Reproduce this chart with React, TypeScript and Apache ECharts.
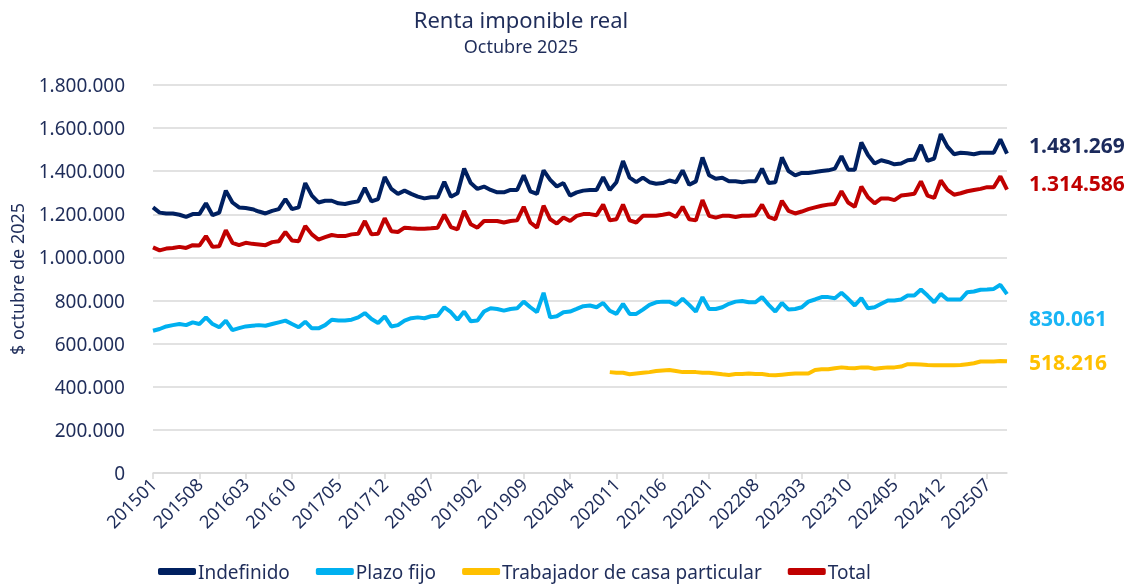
import React, { useEffect, useRef } from "react";
import * as echarts from "echarts";

// Monthly categories 201501 .. 202510
const START_YEAR = 2015;
const N_MONTHS = 130;
const months: string[] = [];
for (let k = 0; k < N_MONTHS; k++) {
  const y = START_YEAR + Math.floor(k / 12);
  const m = (k % 12) + 1;
  months.push(`${y}${m < 10 ? "0" + m : m}`);
}

// Values in thousands of $ (octubre 2025)
const indefinido = [
  1232, 1208, 1204, 1204, 1198, 1188, 1201, 1201, 1251, 1196, 1208, 1310,
  1255, 1232, 1229, 1224, 1213, 1204, 1216, 1224, 1271, 1224, 1232, 1345,
  1287, 1255, 1263, 1263, 1251, 1248, 1255, 1260, 1323, 1260, 1271, 1373,
  1318, 1295, 1310, 1295, 1282, 1274, 1279, 1279, 1351, 1282, 1298, 1412,
  1345, 1318, 1329, 1313, 1302, 1302, 1313, 1313, 1381, 1307, 1295, 1404,
  1360, 1329, 1345, 1287, 1302, 1310, 1313, 1313, 1373, 1313, 1349, 1447,
  1370, 1349, 1370, 1349, 1342, 1345, 1357, 1349, 1404, 1337, 1353, 1464,
  1381, 1365, 1370, 1353, 1353, 1349, 1353, 1353, 1412, 1345, 1349, 1464,
  1401, 1381, 1392, 1392, 1396, 1401, 1404, 1412, 1470, 1407, 1407, 1533,
  1475, 1436, 1451, 1443, 1432, 1436, 1451, 1454, 1522, 1448, 1459, 1572,
  1514, 1479, 1486, 1483, 1479, 1486, 1486, 1486, 1548, 1481.269,
];

const plazoFijo = [
  660, 668, 680, 686, 691, 686, 699, 691, 722, 691, 676, 707,
  663, 672, 680, 683, 686, 683, 691, 699, 707, 691, 676, 702,
  671, 671, 686, 711, 707, 707, 711, 722, 742, 714, 696, 727,
  680, 686, 707, 718, 722, 718, 727, 730, 769, 746, 711, 749,
  704, 707, 749, 764, 761, 753, 761, 764, 795, 769, 746, 836,
  722, 727, 746, 749, 761, 774, 777, 769, 789, 753, 738, 785,
  738, 738, 758, 780, 792, 795, 795, 780, 808, 780, 749, 816,
  761, 761, 769, 785, 795, 798, 792, 792, 816, 780, 749, 789,
  758, 761, 769, 795, 805, 816, 816, 811, 836, 808, 777, 811,
  764, 769, 785, 800, 800, 805, 823, 823, 851, 823, 792, 831,
  805, 805, 805, 839, 842, 850, 851, 854, 873, 830.061,
];

// Trabajador de casa particular: series starts 202010
const casaParticularStart = "202010";
const casaParticular = [
  468, 465, 465, 458, 462, 465, 468, 473, 476, 478, 473, 468,
  468, 468, 465, 465, 462, 458, 455, 459, 459, 462, 459, 459,
  455, 453, 456, 459, 462, 462, 462, 478, 481, 481, 486, 490,
  487, 486, 490, 490, 484, 487, 490, 490, 494, 505, 505, 503,
  501, 500, 500, 500, 500, 501, 505, 509, 517, 517, 517, 520, 518.216,
];

const total = [
  1047, 1033, 1041, 1044, 1049, 1044, 1057, 1055, 1099, 1049, 1052, 1126,
  1068, 1057, 1068, 1063, 1060, 1057, 1071, 1075, 1118, 1079, 1075, 1146,
  1107, 1083, 1094, 1104, 1099, 1099, 1107, 1110, 1169, 1107, 1110, 1182,
  1122, 1118, 1138, 1135, 1133, 1133, 1135, 1138, 1198, 1141, 1130, 1216,
  1154, 1138, 1169, 1169, 1169, 1162, 1169, 1172, 1235, 1162, 1138, 1240,
  1177, 1157, 1185, 1169, 1193, 1201, 1201, 1196, 1245, 1172, 1177, 1245,
  1172, 1162, 1193, 1193, 1193, 1198, 1204, 1188, 1235, 1177, 1172, 1266,
  1193, 1185, 1193, 1193, 1188, 1193, 1193, 1196, 1245, 1188, 1177, 1263,
  1216, 1204, 1213, 1224, 1232, 1240, 1245, 1248, 1307, 1255, 1235, 1329,
  1279, 1251, 1274, 1274, 1266, 1287, 1291, 1295, 1353, 1287, 1276, 1357,
  1313, 1291, 1298, 1307, 1313, 1318, 1326, 1326, 1376, 1314.586,
];

const yTicks = { min: 0, max: 1800000, interval: 200000 };

const NAVY = "#1f2d5a";
const COLORS = {
  indefinido: "#002060",
  plazo: "#00b0f0",
  casa: "#ffc000",
  total: "#c00000",
};

const fmt = (v: number) =>
  String(Math.round(v)).replace(/\B(?=(\d{3})+(?!\d))/g, ".");

const toUnits = (arr: number[]) => arr.map((v) => Math.round(v * 1000));

export default function App() {
  const ref = useRef<HTMLDivElement>(null);

  useEffect(() => {
    if (!ref.current) return;
    const chart = echarts.init(ref.current, undefined, { renderer: "svg" });

    const startIdx = months.indexOf(casaParticularStart);
    const casaFull: (number | null)[] = months.map((_, i) =>
      i < startIdx ? null : Math.round(casaParticular[i - startIdx] * 1000)
    );

    const ind = toUnits(indefinido);
    const pf = toUnits(plazoFijo);
    const tot = toUnits(total);
    const last = (a: (number | null)[]) => a[a.length - 1] as number;

    const font = "Noto Sans";

    chart.setOption({
      animation: false,
      textStyle: { fontFamily: font },
      title: {
        text: "Renta imponible real",
        subtext: "Octubre 2025",
        left: 516,
        textAlign: "center",
        top: 3,
        itemGap: 7,
        textStyle: { fontSize: 22, fontWeight: "normal", color: NAVY, fontFamily: font },
        subtextStyle: { fontSize: 18, color: NAVY, fontFamily: font },
      },
      grid: { left: 146, right: 129, top: 85, bottom: 113, containLabel: false },
      legend: {
        bottom: 0,
        left: 153,
        itemWidth: 38,
        itemHeight: 7,
        itemGap: 26,
        icon: "roundRect",
        textStyle: { fontSize: 19, color: NAVY, fontFamily: font, padding: [0, 0, 0, -3] },
        data: ["Indefinido", "Plazo fijo", "Trabajador de casa particular", "Total"],
      },
      xAxis: {
        type: "category",
        data: months,
        boundaryGap: false,
        axisLine: { lineStyle: { color: "#d9d9d9", width: 1.5 } },
        axisTick: {
          interval: 6,
          length: 6,
          lineStyle: { color: "#d9d9d9", width: 1.5 },
        },
        axisLabel: {
          interval: 6,
          rotate: 45,
          fontSize: 18,
          color: NAVY,
          margin: 8,
          fontFamily: font,
        },
        splitLine: { show: false },
      },
      yAxis: {
        type: "value",
        min: yTicks.min,
        max: yTicks.max,
        interval: yTicks.interval,
        name: "$ octubre de 2025",
        nameLocation: "middle",
        nameRotate: 90,
        nameGap: 127,
        nameTextStyle: { fontSize: 18, color: NAVY, fontFamily: font },
        axisLine: { show: false },
        axisTick: { show: false },
        axisLabel: {
          fontSize: 19,
          color: NAVY,
          margin: 28,
          fontFamily: font,
          formatter: (v: number) => fmt(v),
        },
        splitLine: { lineStyle: { color: "#d9d9d9", width: 1.5 } },
      },
      series: [
        {
          name: "Indefinido",
          type: "line",
          data: ind,
          showSymbol: false,
          symbol: "none",
          lineStyle: { width: 4, color: COLORS.indefinido },
          itemStyle: { color: COLORS.indefinido },
        },
        {
          name: "Plazo fijo",
          type: "line",
          data: pf,
          showSymbol: false,
          symbol: "none",
          lineStyle: { width: 4, color: COLORS.plazo },
          itemStyle: { color: COLORS.plazo },
        },
        {
          name: "Trabajador de casa particular",
          type: "line",
          data: casaFull,
          showSymbol: false,
          symbol: "none",
          lineStyle: { width: 4, color: COLORS.casa },
          itemStyle: { color: COLORS.casa },
        },
        {
          name: "Total",
          type: "line",
          data: tot,
          showSymbol: false,
          symbol: "none",
          lineStyle: { width: 4, color: COLORS.total },
          itemStyle: { color: COLORS.total },
        },
      ],
      graphic: [
        { v: last(ind), y: 148, c: "#1b2a5c" },
        { v: last(tot), y: 186, c: COLORS.total },
        { v: last(pf), y: 321, c: "#19b5f5" },
        { v: last(casaFull), y: 365, c: COLORS.casa },
      ].map((l) => ({
        type: "text",
        left: 1029,
        top: l.y - 14,
        style: {
          text: fmt(l.v),
          fill: l.c,
          fontSize: 21,
          fontWeight: "bold",
          fontFamily: font,
        },
      })),
    });

    return () => chart.dispose();
  }, []);

  return (
    <div
      ref={ref}
      style={{ position: "fixed", left: 0, top: 0, width: 1136, height: 586 }}
    />
  );
}
